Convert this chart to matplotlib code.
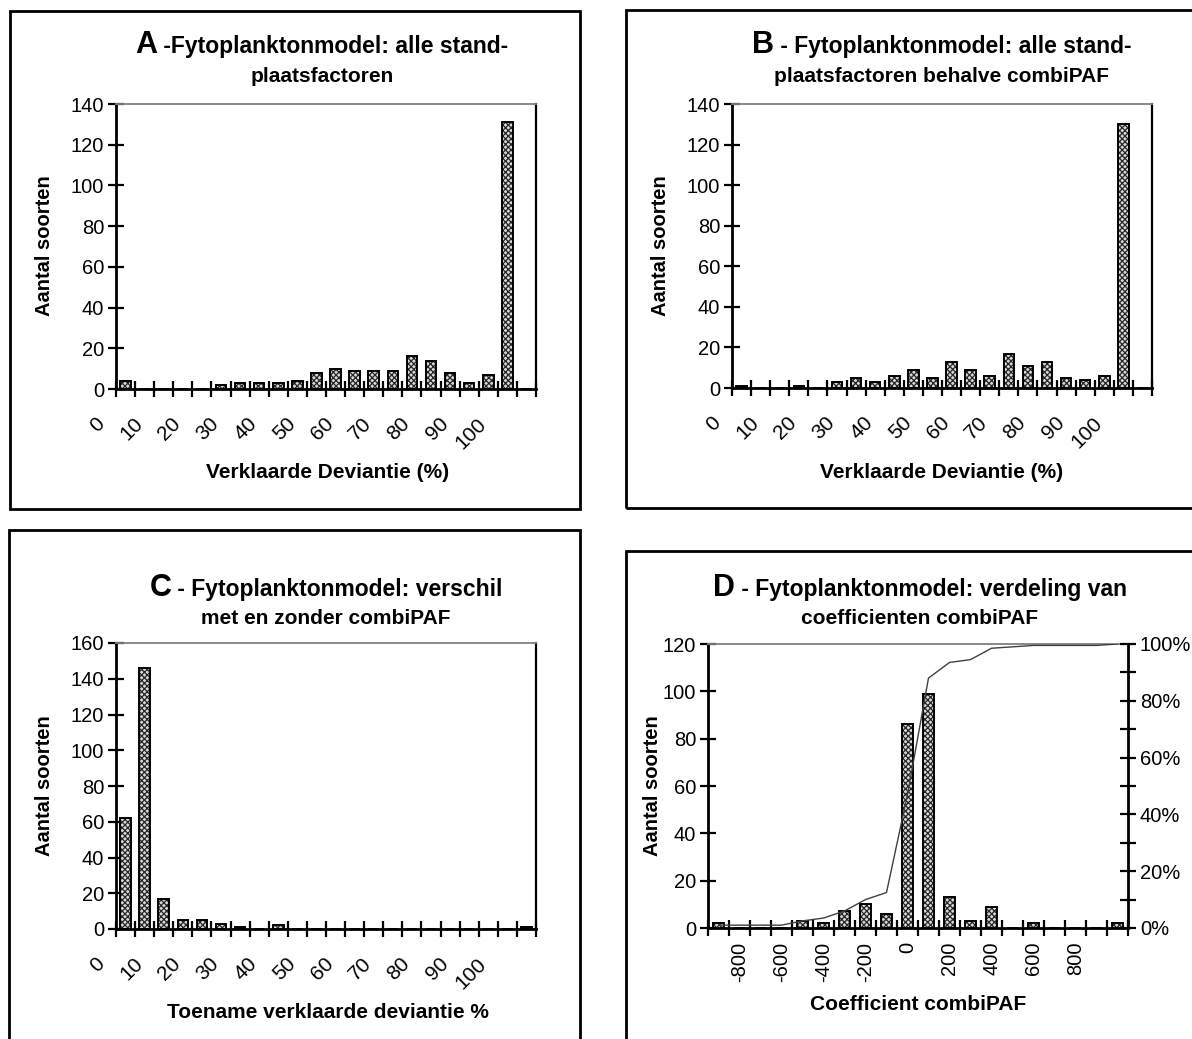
import numpy as np
import matplotlib.pyplot as plt
from matplotlib.patches import Rectangle

plt.rcParams['font.family'] = ['Liberation Sans', 'DejaVu Sans']
plt.rcParams['hatch.linewidth'] = 0.9

W, H = 1192, 1039

# histogram counts per 5 % class (A, B, C) and per 100 class (D)
dev_labels = ['0', '10', '20', '30', '40', '50', '60', '70', '80', '90', '100']
count_a = [4, 0, 0, 0, 0, 2, 3, 3, 3, 4, 8, 10, 9, 9, 9, 16, 14, 8, 3, 7, 131, 0]
count_b = [1, 0, 0, 1, 0, 3, 5, 3, 6, 9, 5, 13, 9, 6, 17, 11, 13, 5, 4, 6, 130, 0]
count_c = [62, 146, 17, 5, 5, 3, 1, 0, 2, 0, 0, 0, 0, 0, 0, 0, 0, 0, 0, 0, 0, 1]
coef_labels = ['-800', '-600', '-400', '-200', '0', '200', '400', '600', '800']
count_d = [2, 0, 0, 0, 3, 2, 7, 10, 6, 86, 99, 13, 3, 9, 0, 2, 0, 0, 0, 2]
cum_d = [1, 1, 1, 1, 2.5, 3.5, 6, 10, 12.5, 47, 88, 93.5, 94.5, 98.5, 99, 99.5,
         99.5, 99.5, 99.5, 100]

fig = plt.figure(figsize=(W / 100, H / 100), dpi=100)


def px_axes(x0, y0, x1, y1):
    return fig.add_axes([x0 / W, 1 - y1 / H, (x1 - x0) / W, (y1 - y0) / H])


def frame(x0, y0, x1, y1):
    fig.patches.append(Rectangle((x0 / W, 1 - y1 / H), (x1 - x0) / W, (y1 - y0) / H,
                                 transform=fig.transFigure, fill=False,
                                 edgecolor='black', linewidth=2.0))


def style(ax):
    for s in ['left', 'bottom']:
        ax.spines[s].set_linewidth(2.0)
    ax.spines['right'].set_linewidth(1.6)
    ax.spines['top'].set_color('0.5')
    ax.spines['top'].set_linestyle((0, (1, 1)))
    ax.spines['top'].set_linewidth(1.3)
    ax.tick_params(axis='y', direction='inout', length=11, width=1.6, labelsize=14.5, pad=3)
    ax.tick_params(axis='x', which='minor', direction='inout', length=11, width=1.6)
    ax.tick_params(axis='x', which='major', length=0)


def bars(ax, counts, width):
    x = np.arange(len(counts))
    ax.bar(x, counts, width, color='0.85', edgecolor='0.15', hatch='xxxxxx',
           linewidth=0, zorder=2)
    ax.bar(x, counts, width, facecolor='none', edgecolor='black', linewidth=1.4, zorder=3)
    ax.set_xlim(-0.5, len(counts) - 0.5)
    ax.set_xticks(np.arange(len(counts) + 1) - 0.5, minor=True)


def dev_ticklabels(ax):
    ax.set_xticks([])
    for k, lab in enumerate(dev_labels):
        ax.annotate(lab, xy=(2 * k - 1.25, 0), xycoords=('data', 'axes fraction'),
                    xytext=(0, -23), textcoords='offset points', rotation=45,
                    ha='right', va='center', rotation_mode='anchor', fontsize=15,
                    annotation_clip=False)


def title2(cx, y1, y2, letter, rest, line2):
    r = fig.canvas.get_renderer()
    t1 = fig.text(0, 0, letter, fontsize=22, weight='bold', va='baseline', transform=None)
    t2 = fig.text(0, 0, rest, fontsize=16.5, weight='bold', va='baseline', transform=None)
    w1 = t1.get_window_extent(r).width
    w2 = t2.get_window_extent(r).width
    left = cx - (w1 + w2) / 2
    t1.set_position((left, H - y1))
    t2.set_position((left + w1, H - y1))
    fig.text(cx, H - y2, line2, fontsize=15, weight='bold', ha='center',
             va='baseline', transform=None)


def ylab(x, y):
    fig.text(x / W, 1 - y / H, 'Aantal soorten', rotation=90, fontsize=14.5,
             weight='bold', ha='center', va='center')


def xlab(x, y, s):
    fig.text(x / W, 1 - y / H, s, fontsize=15, weight='bold', ha='center', va='center')


# ---- A ----
frame(10, 11, 580, 509)
axA = px_axes(116, 104, 536, 389)
bars(axA, count_a, 0.55)
axA.set_ylim(0, 140)
axA.set_yticks(range(0, 141, 20))
style(axA)
dev_ticklabels(axA)
title2(322, 53, 82, 'A', ' -Fytoplanktonmodel: alle stand-', 'plaatsfactoren')
ylab(45, 246)
xlab(328, 473, 'Verklaarde Deviantie (%)')

# ---- B ----
frame(626, 10, 1215, 508)
axB = px_axes(732, 104, 1152, 388)
bars(axB, count_b, 0.55)
axB.set_ylim(0, 140)
axB.set_yticks(range(0, 141, 20))
style(axB)
dev_ticklabels(axB)
title2(942, 53, 82, 'B', ' - Fytoplanktonmodel: alle stand-',
       'plaatsfactoren behalve combiPAF')
ylab(661, 246)
xlab(942, 473, 'Verklaarde Deviantie (%)')

# ---- C ----
frame(9, 530, 580, 1060)
axC = px_axes(116, 643, 536, 929)
bars(axC, count_c, 0.55)
axC.set_ylim(0, 160)
axC.set_yticks(range(0, 161, 20))
style(axC)
dev_ticklabels(axC)
title2(326, 596, 624, 'C', ' - Fytoplanktonmodel: verschil', 'met en zonder combiPAF')
ylab(45, 786)
xlab(328, 1012, 'Toename verklaarde deviantie %')

# ---- D ----
frame(626, 551, 1215, 1060)
axD = px_axes(708, 644, 1128, 928)
bars(axD, count_d, 0.5)
axD.set_ylim(0, 120)
axD.set_yticks(range(0, 121, 20))
style(axD)
axD.set_xticks(np.arange(1, 18, 2))
axD.set_xticklabels(coef_labels, rotation=90, fontsize=14.5, va='top', ha='center')
axD.tick_params(axis='x', which='major', length=0, pad=10)
axD2 = axD.twinx()
axD2.plot(np.arange(len(cum_d)), cum_d, color='0.25', linewidth=1.0)
axD2.set_ylim(0, 100)
axD2.set_yticks(range(0, 101, 20))
axD2.set_yticklabels([f'{v}%' for v in range(0, 101, 20)])
axD2.set_yticks(range(10, 100, 20), minor=True)
axD2.tick_params(axis='y', which='both', direction='inout', length=11, width=1.6,
                 labelsize=14.5, pad=3)
axD2.spines['right'].set_linewidth(2.0)
axD2.spines['top'].set_visible(False)
axD2.spines['left'].set_visible(False)
axD2.spines['bottom'].set_visible(False)
axD.spines['right'].set_visible(False)
title2(920, 596, 624, 'D', ' - Fytoplanktonmodel: verdeling van', 'coefficienten combiPAF')
ylab(652, 786)
xlab(918, 1004, 'Coefficient combiPAF')

fig.savefig('out.png', dpi=100)
